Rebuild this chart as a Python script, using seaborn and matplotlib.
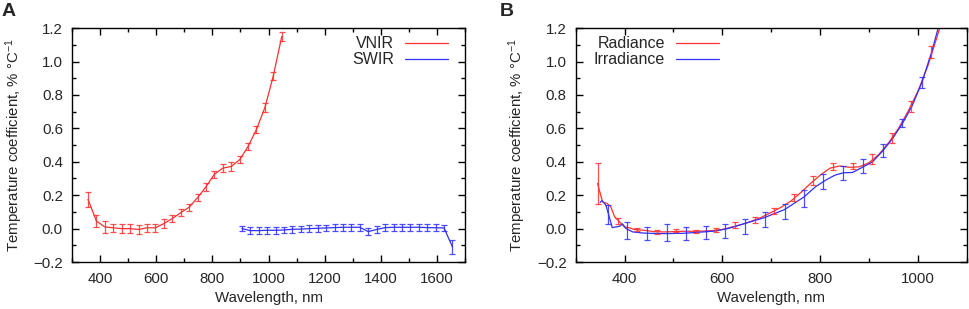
import matplotlib.pyplot as plt
import numpy as np
import pandas as pd
import seaborn as sns
from matplotlib.ticker import MultipleLocator

# Panel A: VNIR / SWIR temperature coefficients
vnir_wl = [357, 387, 417, 447, 477, 507, 537, 567, 597, 627, 657, 687,
           717, 747, 777, 807, 837, 867, 897, 927, 957, 987, 1017, 1047]
vnir_tc = [0.175, 0.045, 0.01, 0.005, 0.0, 0.0, -0.005, 0.005, 0.005, 0.03, 0.06, 0.095,
           0.128, 0.185, 0.25, 0.325, 0.362, 0.372, 0.412, 0.492, 0.594, 0.725, 0.915, 1.15]
vnir_err = [0.045, 0.035, 0.035, 0.025, 0.025, 0.025, 0.025, 0.025, 0.025, 0.025, 0.022, 0.02,
            0.02, 0.022, 0.025, 0.022, 0.025, 0.025, 0.022, 0.022, 0.022, 0.025, 0.025, 0.025]

swir_wl = [905, 935, 965, 995, 1025, 1055, 1085, 1115, 1145, 1175, 1205, 1235, 1265,
           1295, 1325, 1355, 1385, 1415, 1445, 1475, 1505, 1535, 1565, 1595, 1625, 1655]
swir_tc = [0.0, -0.012, -0.012, -0.01, -0.01, -0.008, -0.004, -0.003, 0.0, 0.002, 0.004, 0.006, 0.008,
           0.008, 0.008, -0.018, -0.005, 0.006, 0.008, 0.008, 0.008, 0.008, 0.006, 0.005, 0.004, -0.11]
swir_err = [0.016, 0.02, 0.02, 0.02, 0.02, 0.02, 0.02, 0.02, 0.02, 0.02, 0.02, 0.02, 0.02,
            0.02, 0.02, 0.02, 0.02, 0.02, 0.02, 0.02, 0.02, 0.02, 0.02, 0.02, 0.02, 0.04]

# Panel B: radiance / irradiance curves and their error bars
rad_wl = [345, 355, 365, 372, 380, 390, 400, 410, 420, 440, 460, 480, 500, 520, 540, 560,
          580, 600, 620, 640, 660, 680, 700, 720, 740, 760, 780, 800, 820, 840, 860, 880,
          900, 920, 940, 960, 980, 1000, 1020, 1040, 1050]
rad_tc = [0.27, 0.16, 0.15, 0.13, 0.07, 0.04, 0.01, 0.005, -0.005, -0.01, -0.018, -0.02, -0.018,
          -0.016, -0.016, -0.015, -0.012, -0.005, 0.01, 0.025, 0.045, 0.068, 0.097, 0.128, 0.165,
          0.215, 0.27, 0.32, 0.362, 0.375, 0.367, 0.37, 0.395, 0.445, 0.515, 0.6, 0.705, 0.825,
          0.975, 1.16, 1.26]
rad_bar_wl = [346, 386, 426, 466, 506, 546, 586, 626, 666, 706, 746, 786, 826, 866, 906, 946, 986, 1026]
rad_bar_tc = [0.27, 0.045, -0.005, -0.022, -0.012, -0.018, -0.008, 0.02, 0.05, 0.106, 0.186, 0.29,
              0.372, 0.373, 0.415, 0.542, 0.733, 1.055]
rad_bar_err = [0.12, 0.02, 0.008, 0.012, 0.01, 0.01, 0.012, 0.018, 0.017, 0.02, 0.02, 0.026,
               0.022, 0.017, 0.029, 0.028, 0.033, 0.035]

irr_wl = [350, 354, 362, 375, 390, 396, 403, 417, 440, 480, 520, 550, 584, 611, 645, 686,
          727, 767, 790, 811, 830, 847, 866, 888, 907, 928, 948, 968, 987, 1007, 1027, 1040, 1050]
irr_tc = [0.156, 0.168, 0.14, 0.006, 0.014, 0.028, 0.0, -0.02, -0.027, -0.03, -0.028, -0.022,
          -0.015, 0.0, 0.03, 0.066, 0.114, 0.19, 0.25, 0.29, 0.32, 0.334, 0.336, 0.37, 0.4,
          0.466, 0.54, 0.63, 0.73, 0.87, 1.05, 1.19, 1.3]
irr_bar_wl = [366, 405, 445, 486, 525, 566, 606, 646, 687, 727, 766, 806, 847, 888, 928, 968, 1007]
irr_bar_tc = [0.085, -0.01, -0.028, -0.025, -0.03, -0.025, -0.013, 0.015, 0.055, 0.105, 0.18,
              0.283, 0.333, 0.374, 0.466, 0.63, 0.873]
irr_bar_err = [0.055, 0.05, 0.04, 0.05, 0.04, 0.04, 0.043, 0.045, 0.045, 0.045, 0.05, 0.043,
               0.043, 0.04, 0.04, 0.024, 0.033]

RED = "#ff3030"
BLUE = "#3030ff"


def style_axis(ax, xlim, xmajor):
    ax.set_xlim(*xlim)
    ax.set_ylim(-0.2, 1.2)
    ax.xaxis.set_major_locator(MultipleLocator(xmajor))
    ax.xaxis.set_minor_locator(MultipleLocator(xmajor / 2))
    ax.yaxis.set_major_locator(MultipleLocator(0.2))
    ax.yaxis.set_minor_locator(MultipleLocator(0.1))
    ax.yaxis.set_major_formatter(lambda v, p: f"{v:.1f}".replace("-", "\u2212"))
    ax.tick_params(which="both", direction="in", top=True, right=True, labelsize=10.8,
                   width=1.0, color="black")
    ax.tick_params(which="major", length=5)
    ax.tick_params(which="minor", length=3)
    ax.tick_params(axis="x", which="major", pad=7)
    ax.tick_params(axis="y", which="major", pad=6.5)
    for sp in ax.spines.values():
        sp.set_visible(True)
        sp.set_color("black")
        sp.set_linewidth(1.0)
    ax.set_xlabel("Wavelength, nm", fontsize=10.8, labelpad=4)
    ax.set_ylabel("Temperature coefficient, % °C$^{\u22121}$", fontsize=10.8, labelpad=6)
    ax.grid(False)


def bars(ax, x, y, e, color):
    ax.errorbar(x, y, yerr=e, fmt="none", ecolor=color, elinewidth=0.9,
                capsize=2.5, capthick=0.9, alpha=0.85, zorder=3)


def main():
    sns.set_theme(style="ticks")
    plt.rcParams["font.family"] = ["Liberation Sans", "DejaVu Sans"]
    plt.rcParams["mathtext.fontset"] = "custom"
    plt.rcParams["mathtext.rm"] = "Liberation Sans"
    plt.rcParams["mathtext.it"] = "Liberation Sans"

    fig = plt.figure(figsize=(9.69, 3.09), dpi=100)
    fig.patch.set_facecolor("white")
    ax1 = fig.add_axes([0.0743, 0.152, 0.4057, 0.757])
    ax2 = fig.add_axes([0.594, 0.152, 0.404, 0.757])

    legend_kw = dict(frameon=False, markerfirst=False, fontsize=11.5, handlelength=2.7,
                     handletextpad=0.7, labelspacing=0.05, borderaxespad=0.3)

    # panel A
    vnir = pd.DataFrame({"wl": vnir_wl, "tc": vnir_tc})
    swir = pd.DataFrame({"wl": swir_wl, "tc": swir_tc})
    sns.lineplot(data=vnir, x="wl", y="tc", ax=ax1, color=RED, lw=0.9, label="VNIR")
    sns.lineplot(data=swir, x="wl", y="tc", ax=ax1, color=BLUE, lw=0.9, label="SWIR")
    bars(ax1, vnir_wl, vnir_tc, vnir_err, RED)
    bars(ax1, swir_wl, swir_tc, swir_err, BLUE)
    style_axis(ax1, (300, 1700), 200)
    ax1.legend(loc="upper right", bbox_to_anchor=(0.985, 1.012), **legend_kw)

    # panel B
    rad = pd.DataFrame({"wl": rad_wl, "tc": rad_tc})
    irr = pd.DataFrame({"wl": irr_wl, "tc": irr_tc})
    sns.lineplot(data=rad, x="wl", y="tc", ax=ax2, color=RED, lw=0.9, label="Radiance")
    sns.lineplot(data=irr, x="wl", y="tc", ax=ax2, color=BLUE, lw=0.9, label="Irradiance")
    bars(ax2, rad_bar_wl, rad_bar_tc, rad_bar_err, RED)
    bars(ax2, irr_bar_wl, irr_bar_tc, irr_bar_err, BLUE)
    style_axis(ax2, (300, 1100), 200)
    ax2.legend(loc="upper right", bbox_to_anchor=(0.396, 1.012), **legend_kw)

    fig.text(0.002, 0.99, "A", fontsize=14, fontweight="bold", va="top", ha="left")
    fig.text(0.516, 0.99, "B", fontsize=14, fontweight="bold", va="top", ha="left")

    fig.savefig("out.png", dpi=100, facecolor="white")
    plt.close(fig)


if __name__ == "__main__":
    main()
